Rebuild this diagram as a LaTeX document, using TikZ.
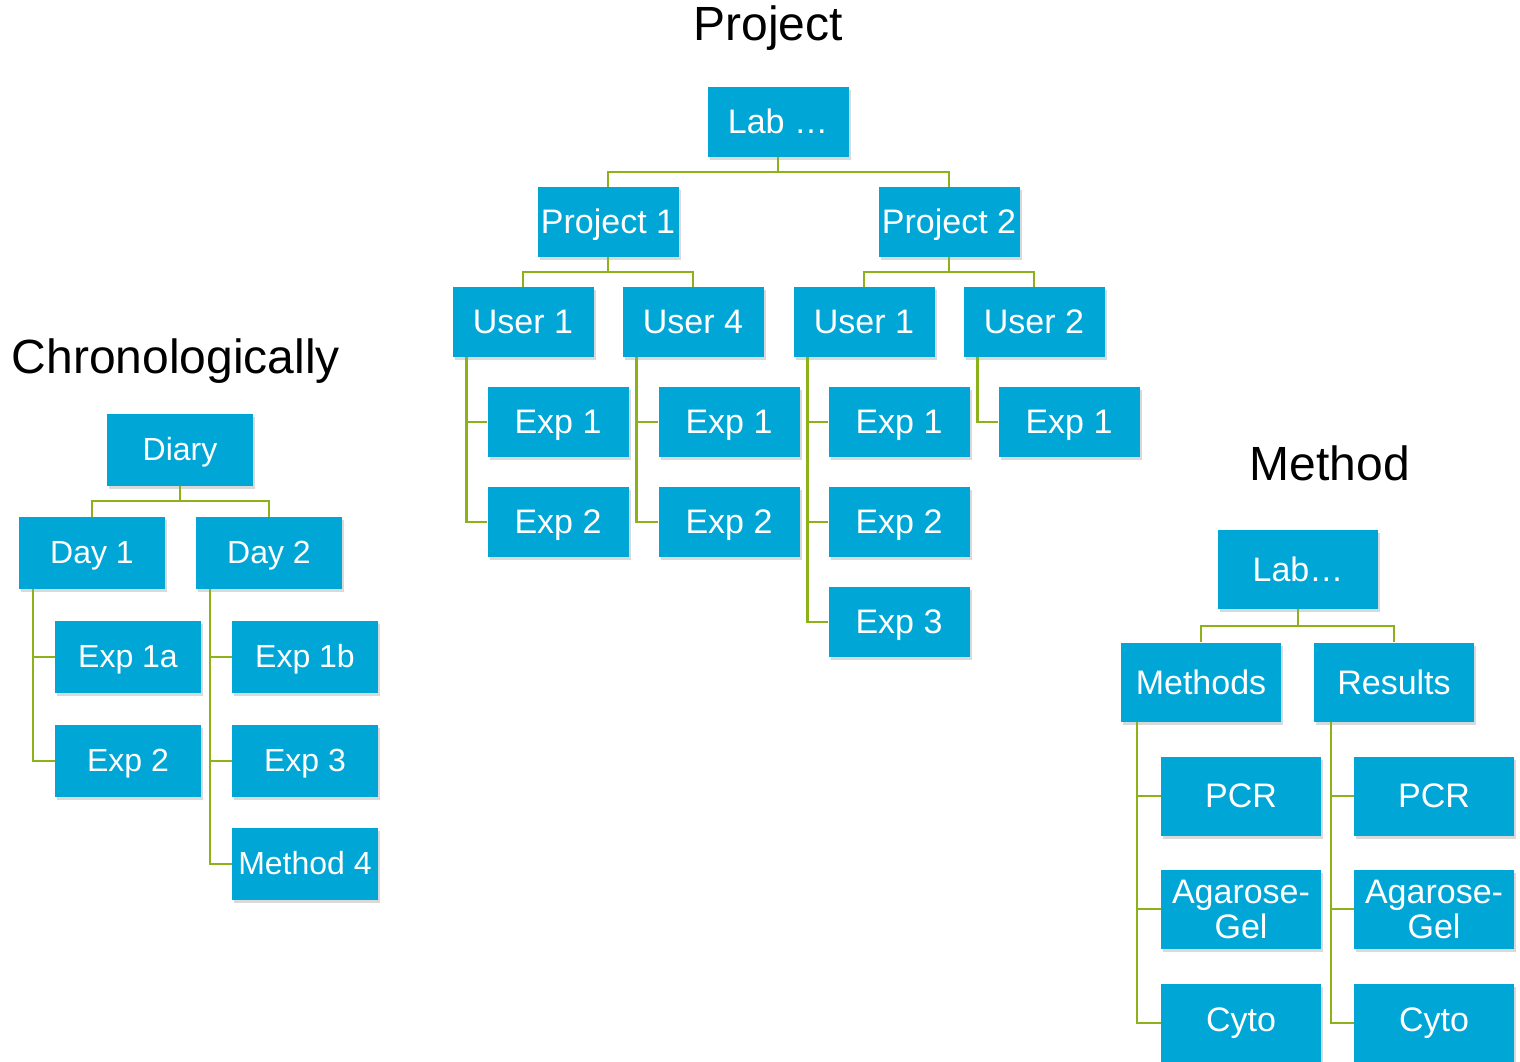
\documentclass[tikz,border=0pt]{standalone}
\usepackage{fontspec}
\setmainfont{Liberation Sans}
\usetikzlibrary{shadows}
\definecolor{boxblue}{RGB}{0,167,214}
\definecolor{linegreen}{RGB}{141,178,25}
\begin{document}
\begin{tikzpicture}[x=1pt,y=-1pt]
      \tikzstyle{every node}=[inner sep=0pt]
      \tikzstyle{box}=[rectangle,fill=boxblue,text=white,align=center,
        drop shadow={opacity=0.3,shadow xshift=2pt,shadow yshift=-3pt},
        text height=28pt,text depth=5pt,
        minimum width=141pt,minimum height=70pt,font=\fontsize{34}{36}\selectfont]
      \tikzstyle{wbox}=[box,minimum width=146pt,minimum height=72pt,
        text height=26pt,text depth=4.5pt,font=\fontsize{32}{34}\selectfont]
      \tikzstyle{mbox}=[rectangle,fill=boxblue,text=white,align=center,
        drop shadow={opacity=0.3,shadow xshift=2pt,shadow yshift=-3pt},
        minimum width=160pt,minimum height=79pt,font=\fontsize{34}{35}\selectfont]
      \tikzstyle{title}=[font=\fontsize{48}{50}\selectfont]
      \tikzstyle{link}=[draw=linegreen,line width=2.4pt]
      \useasboundingbox (0,0) rectangle (1520,1062);

      % by project
      \node[title] (tproj) at (768,28) {Project};
      \node[box] (lab) at (778,122) {Lab \dots};
      \node[box] (p1) at (608,222) {Project 1};
      \node[box] (p2) at (949,222) {Project 2};
      \node[box] (u11) at (523,322) {User 1};
      \node[box] (u14) at (693,322) {User 4};
      \node[box] (u21) at (864,322) {User 1};
      \node[box] (u22) at (1034,322) {User 2};
      \node[box] (e111) at (558,422) {Exp 1};
      \node[box] (e112) at (558,522) {Exp 2};
      \node[box] (e141) at (729,422) {Exp 1};
      \node[box] (e142) at (729,522) {Exp 2};
      \node[box] (e211) at (899,422) {Exp 1};
      \node[box] (e212) at (899,522) {Exp 2};
      \node[box] (e213) at (899,622) {Exp 3};
      \node[box] (e221) at (1069,422) {Exp 1};

      \draw[link] (lab.south) -- ++(0,15) -| (p1.north);
      \draw[link] (lab.south) -- ++(0,15) -| (p2.north);
      \draw[link] (p1.south) -- ++(0,15) -| (u11.north);
      \draw[link] (p1.south) -- ++(0,15) -| (u14.north);
      \draw[link] (p2.south) -- ++(0,15) -| (u21.north);
      \draw[link] (p2.south) -- ++(0,15) -| (u22.north);
      \draw[link] ([xshift=14pt]u11.south west) |- (e111.west);
      \draw[link] ([xshift=14pt]u11.south west) |- (e112.west);
      \draw[link] ([xshift=14pt]u14.south west) |- (e141.west);
      \draw[link] ([xshift=14pt]u14.south west) |- (e142.west);
      \draw[link] ([xshift=14pt]u21.south west) |- (e211.west);
      \draw[link] ([xshift=14pt]u21.south west) |- (e212.west);
      \draw[link] ([xshift=14pt]u21.south west) |- (e213.west);
      \draw[link] ([xshift=14pt]u22.south west) |- (e221.west);

      % chronologically
      \node[title] (tchron) at (176,361) {Chronologically};
      \node[wbox] (diary) at (180,450) {Diary};
      \node[wbox] (d1) at (92,553) {Day 1};
      \node[wbox] (d2) at (269,553) {Day 2};
      \node[wbox] (x1a) at (128,657) {Exp 1a};
      \node[wbox] (x2) at (128,761) {Exp 2};
      \node[wbox] (x1b) at (305,657) {Exp 1b};
      \node[wbox] (x3) at (305,761) {Exp 3};
      \node[wbox] (m4) at (305,864) {Method 4};

      \draw[link] (diary.south) -- ++(0,15) -| (d1.north);
      \draw[link] (diary.south) -- ++(0,15) -| (d2.north);
      \draw[link] ([xshift=14pt]d1.south west) |- (x1a.west);
      \draw[link] ([xshift=14pt]d1.south west) |- (x2.west);
      \draw[link] ([xshift=14pt]d2.south west) |- (x1b.west);
      \draw[link] ([xshift=14pt]d2.south west) |- (x3.west);
      \draw[link] ([xshift=14pt]d2.south west) |- (m4.west);

      % by method
      \node[title] (tmeth) at (1330,463) {Method};
      \node[mbox] (lab2) at (1298,569) {Lab\dots};
      \node[mbox] (meth) at (1201,682) {Methods};
      \node[mbox] (res) at (1394,682) {Results};
      \node[mbox] (pcr1) at (1241,796) {PCR};
      \node[mbox] (gel1) at (1241,909) {Agarose-\\Gel};
      \node[mbox] (cyt1) at (1241,1023) {Cyto};
      \node[mbox] (pcr2) at (1434,796) {PCR};
      \node[mbox] (gel2) at (1434,909) {Agarose-\\Gel};
      \node[mbox] (cyt2) at (1434,1023) {Cyto};

      \draw[link] (lab2.south) -- ++(0,17) -| (meth.north);
      \draw[link] (lab2.south) -- ++(0,17) -| (res.north);
      \draw[link] ([xshift=16pt]meth.south west) |- (pcr1.west);
      \draw[link] ([xshift=16pt]meth.south west) |- (gel1.west);
      \draw[link] ([xshift=16pt]meth.south west) |- (cyt1.west);
      \draw[link] ([xshift=17pt]res.south west) |- (pcr2.west);
      \draw[link] ([xshift=17pt]res.south west) |- (gel2.west);
      \draw[link] ([xshift=17pt]res.south west) |- (cyt2.west);
    \end{tikzpicture}
\end{document}
